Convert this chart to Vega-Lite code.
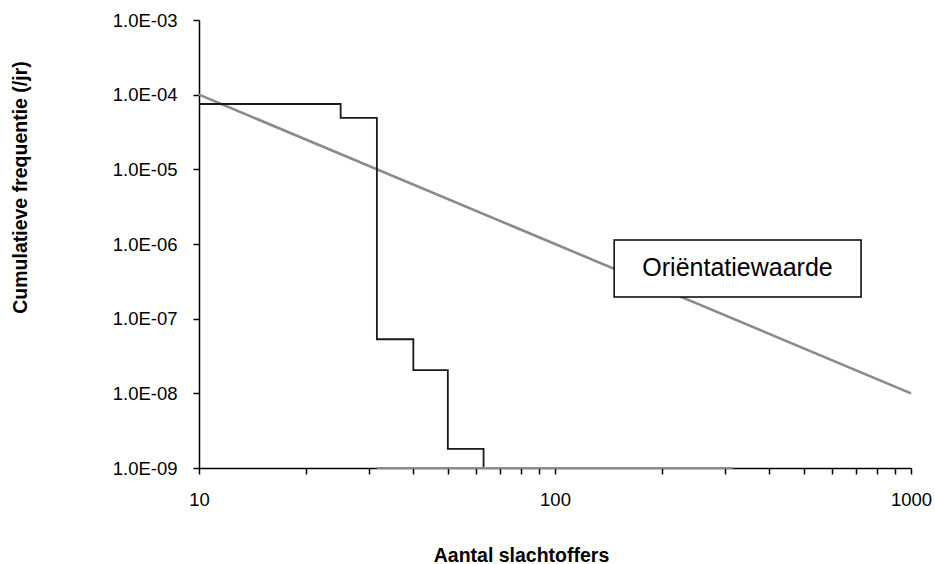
{
  "$schema": "https://vega.github.io/schema/vega-lite/v6.json",
  "width": 712,
  "height": 448,
  "autosize": {"type": "none"},
  "padding": {"left": 199, "top": 20, "right": 24, "bottom": 96},
  "background": "white",
  "config": {
    "view": {"stroke": null},
    "font": "Liberation Sans",
    "axis": {"grid": false, "domainColor": "black", "tickColor": "black", "domainWidth": 1.5, "tickWidth": 1.5, "labelColor": "black", "titleColor": "black", "labelFont": "Liberation Sans", "titleFont": "Liberation Sans"}
  },
  "datasets": {
    "orient": [{"n": 10, "f": 1e-4}, {"n": 1000, "f": 1e-8}],
    "fn": [
      {"n": 10, "f": 7.5e-5},
      {"n": 25, "f": 4.9e-5},
      {"n": 31.6, "f": 5.3e-8},
      {"n": 40, "f": 2.05e-8},
      {"n": 50, "f": 1.8e-9},
      {"n": 63, "f": 1e-9}
    ],
    "base": [{"n": 31.6, "f": 1e-9}, {"n": 316, "f": 1e-9}],
    "box": [{"n1": 146.6, "n2": 724, "f1": 1.13e-6, "f2": 1.95e-7, "n": 325.6, "f": 4.7e-7, "label": "Oriëntatiewaarde"}]
  },
  "layer": [
    {
      "data": {"name": "orient"},
      "mark": {"type": "line", "color": "#8a8a8a", "strokeWidth": 2.6},
      "encoding": {
        "x": {"field": "n", "type": "quantitative", "scale": {"type": "log", "domain": [10, 1000], "nice": false},
          "axis": {"title": "Aantal slachtoffers", "values": [10,20,30,40,50,60,70,80,90,100,200,300,400,500,600,700,800,900,1000],
            "format": "d", "labelExpr": "indexof([10,100,1000], datum.value) >= 0 ? datum.label : ''",
            "labelOverlap": false, "labelFlush": false, "tickSize": 6, "labelPadding": 16, "labelFontSize": 18.5,
            "titleFontSize": 19.5, "titleFontWeight": "bold", "titleX": 322, "titleAlign": "center", "titleAnchor": "start", "titleY": 93, "titleBaseline": "alphabetic"}},
        "y": {"field": "f", "type": "quantitative", "scale": {"type": "log", "domain": [1e-9, 1e-3], "nice": false},
          "axis": {"title": "Cumulatieve frequentie  (/jr)", "values": [1e-9,1e-8,1e-7,1e-6,1e-5,1e-4,1e-3],
            "labelExpr": "'1.0E-0' + round(-log(datum.value)/LN10)", "tickSize": 6, "labelPadding": 16, "labelFontSize": 18.5,
            "titleFontSize": 19.5, "titleFontWeight": "bold", "titleX": -188, "titleY": 167, "titleBaseline": "top", "titleAngle": -90}}
      }
    },
    {
      "data": {"name": "fn"},
      "mark": {"type": "line", "color": "#1a1a1a", "strokeWidth": 1.8, "interpolate": "step-after"},
      "encoding": {
        "x": {"field": "n", "type": "quantitative"},
        "y": {"field": "f", "type": "quantitative"}
      }
    },
    {
      "data": {"name": "base"},
      "mark": {"type": "line", "color": "#8a8a8a", "strokeWidth": 2},
      "encoding": {
        "x": {"field": "n", "type": "quantitative"},
        "y": {"field": "f", "type": "quantitative"}
      }
    },
    {
      "data": {"name": "box"},
      "mark": {"type": "rect", "fill": "white", "stroke": "black", "strokeWidth": 1.5},
      "encoding": {
        "x": {"field": "n1", "type": "quantitative"},
        "x2": {"field": "n2"},
        "y": {"field": "f1", "type": "quantitative"},
        "y2": {"field": "f2"}
      }
    },
    {
      "data": {"name": "box"},
      "mark": {"type": "text", "font": "Liberation Sans", "fontSize": 25, "color": "black", "align": "center", "baseline": "middle"},
      "encoding": {
        "x": {"field": "n", "type": "quantitative"},
        "y": {"field": "f", "type": "quantitative"},
        "text": {"field": "label"}
      }
    }
  ]
}
